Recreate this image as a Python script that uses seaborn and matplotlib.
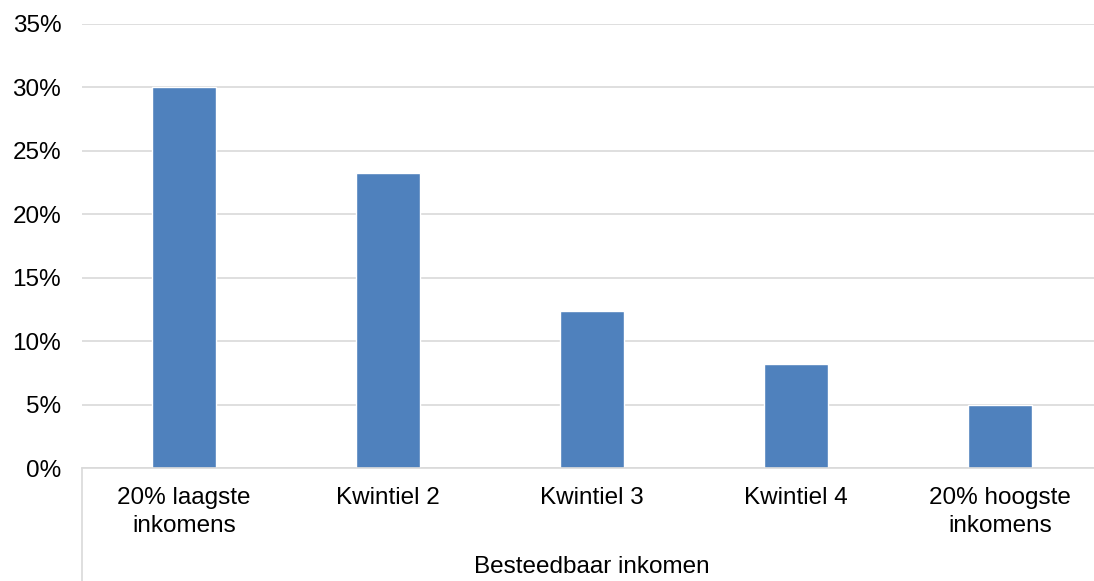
import pandas as pd
import matplotlib.pyplot as plt
import seaborn as sns
from matplotlib.ticker import PercentFormatter

# Data
categories = ["20% laagste\ninkomens", "Kwintiel 2", "Kwintiel 3", "Kwintiel 4", "20% hoogste\ninkomens"]
shares = [30.05, 23.27, 12.39, 8.22, 4.97]
yticks = [0, 5, 10, 15, 20, 25, 30, 35]
group_label = "Besteedbaar inkomen"

df = pd.DataFrame({"Kwintiel": categories, "Aandeel": shares})

sns.set_style("white")
plt.rcParams["font.family"] = ["Liberation Sans", "DejaVu Sans"]
plt.rcParams["text.color"] = "black"

fig = plt.figure(figsize=(10.94, 5.81), dpi=100)
ax = fig.add_axes([0.075, 0.1937, 0.9324, 0.765])

sns.barplot(data=df, x="Kwintiel", y="Aandeel", color="#4F81BD",
            width=0.31, saturation=1, ax=ax, zorder=2)

ax.set_xlim(-0.5, len(categories) - 0.5)
ax.set_ylim(0, 35)
ax.set_yticks(yticks)
ax.yaxis.set_major_formatter(PercentFormatter(decimals=0))
ax.grid(axis="y", color="#d9d9d9", linewidth=1.2, zorder=0)
ax.set_axisbelow(True)

for side in ["top", "right", "left"]:
    ax.spines[side].set_visible(False)
ax.spines["bottom"].set_color("#d9d9d9")
ax.spines["bottom"].set_linewidth(1.2)

ax.tick_params(axis="both", length=0, labelsize=17.5, colors="black")
ax.tick_params(axis="y", pad=15)
ax.tick_params(axis="x", pad=13)
for lbl in ax.get_xticklabels():
    lbl.set_linespacing(1.4)
ax.set_xlabel("")
ax.set_ylabel("")

# multi-level category axis: outer line and group label
ax.plot([0, 0], [0, -0.3], transform=ax.transAxes, color="#d9d9d9",
        linewidth=1.2, clip_on=False)
ax.text(0.5, -0.222, group_label, transform=ax.transAxes, ha="center",
        va="center", fontsize=17.5, color="black")

fig.savefig("out.png", dpi=100, facecolor="white")
